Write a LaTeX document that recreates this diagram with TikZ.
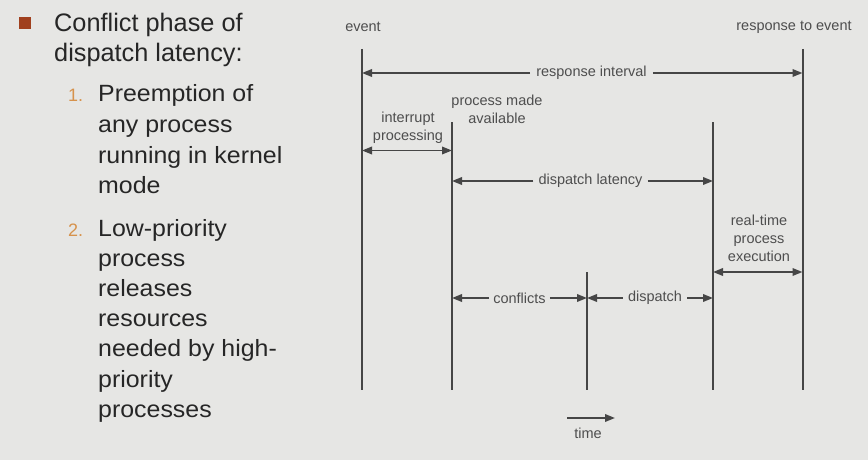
\documentclass[tikz,border=0pt]{standalone}
\usepackage{fontspec}
\setmainfont{Liberation Sans}
\newfontfamily\itemfont[FakeStretch=1.06]{Liberation Sans}
\usetikzlibrary{arrows.meta}
\definecolor{bg}{RGB}{230,230,228}
\definecolor{linec}{RGB}{70,70,70}
\definecolor{txt}{RGB}{38,38,38}
\definecolor{dtxt}{RGB}{78,78,78}
\definecolor{bul}{RGB}{160,64,30}
\definecolor{num}{RGB}{214,146,76}
\begin{document}
\begin{tikzpicture}[x=1pt,y=-1pt,
  head/.style={anchor=base west, inner sep=0pt, text=txt, font=\fontsize{25.3}{30}\selectfont},
  itemtx/.style={anchor=base west, inner sep=0pt, text=txt, font=\itemfont\fontsize{23.5}{30}\selectfont},
  numst/.style={anchor=base west, inner sep=0pt, text=num, font=\fontsize{18}{30}\selectfont},
  bulletsq/.style={fill=bul, minimum size=12pt, inner sep=0pt},
  dlab/.style={text=dtxt, font=\fontsize{14.5}{18}\selectfont, inner xsep=5pt, inner ysep=1pt, align=center},
  vline/.style={draw=linec, line width=2pt},
  arr/.style={draw=linec, line width=1.9pt, -{Triangle[length=10pt,width=7.5pt]}},
  darr/.style={draw=linec, line width=1.9pt, {Triangle[length=10pt,width=7.5pt]}-{Triangle[length=10pt,width=7.5pt]}}]
\fill[bg] (0,0) rectangle (868,460);
\useasboundingbox (0,0) rectangle (868,460);

% left text
\node[bulletsq] (bsq) at (24.5,23.5) {};
\node[head] (h1) at (54,31.5) {Conflict phase of};
\node[head] (h2) at (54,62) {dispatch latency:};
\node[numst] (n1) at (68,102) {1.};
\foreach \t [count=\i] in {Preemption of, any process, running in kernel, mode}
  \node[itemtx] (a\i) at (98,{102+(\i-1)*30.5}) {\t};
\node[numst] (n2) at (68,236) {2.};
\foreach \t [count=\i] in {Low-priority, process, releases, resources, needed by high-, priority, processes}
  \node[itemtx] (b\i) at (98,{236+(\i-1)*30.2}) {\t};

% vertical lines
\coordinate (e1t) at (362,49);   \coordinate (e1b) at (362,390);
\coordinate (p2t) at (452,122);  \coordinate (p2b) at (452,390);
\coordinate (c3t) at (587,272);  \coordinate (c3b) at (587,390);
\coordinate (d4t) at (713,122);  \coordinate (d4b) at (713,390);
\coordinate (r5t) at (802.5,49); \coordinate (r5b) at (802.5,390);
\draw[vline] (e1t) -- (e1b);
\draw[vline] (p2t) -- (p2b);
\draw[vline] (c3t) -- (c3b);
\draw[vline] (d4t) -- (d4b);
\draw[vline] (r5t) -- (r5b);

% top labels
\node[dlab] (ev) at (363,27) {event};
\node[dlab] (rte) at (794,27) {response to event};

% response interval
\node[dlab, inner xsep=6pt] (ri) at (591.5,73) {response interval};
\draw[arr] (ri.west) -- (ri.west -| e1t);
\draw[arr] (ri.east) -- (ri.east -| r5t);

% interrupt processing
\node[dlab] (ip) at (408,128) {interrupt\\processing};
\coordinate (ipa) at (362,150.5);
\draw[darr] (ipa) -- (ipa -| p2t);
\node[dlab] (pma) at (497,109) {process made\\available};

% dispatch latency
\node[dlab] (dl) at (590.5,181) {dispatch latency};
\draw[arr] (dl.west) -- (dl.west -| p2t);
\draw[arr] (dl.east) -- (dl.east -| d4t);

% real-time process execution
\node[dlab] (rt) at (759,238) {real-time\\process\\execution};
\coordinate (rta) at (713,272);
\draw[darr] (rta) -- (rta -| r5t);

% conflicts and dispatch
\node[dlab, inner xsep=4pt] (cf) at (519.5,298) {conflicts};
\draw[arr] (cf.west) -- (cf.west -| p2t);
\draw[arr] (cf.east) -- (cf.east -| c3t);
\node[dlab] (dp) at (655,298) {dispatch};
\draw[arr] (dp.west) -- (dp.west -| c3t);
\draw[arr] (dp.east) -- (dp.east -| d4t);

% time
\coordinate (t0) at (567,418);
\coordinate (t1) at (615,418);
\draw[arr] (t0) -- (t1);
\node[dlab] (tm) at (588,433) {time};
\end{tikzpicture}
\end{document}
